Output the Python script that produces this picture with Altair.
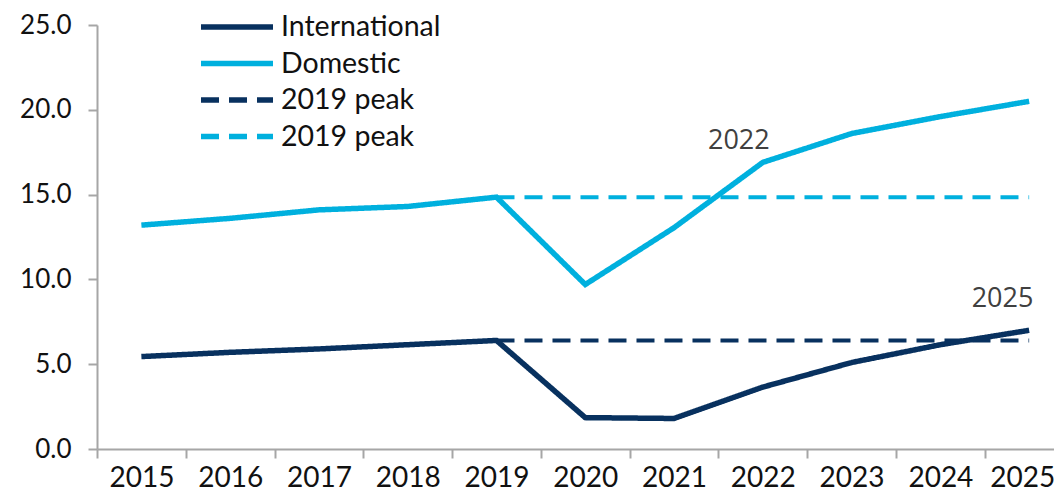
import altair as alt
import pandas as pd

years = [2015, 2016, 2017, 2018, 2019, 2020, 2021, 2022, 2023, 2024, 2025]
international = [5.45, 5.7, 5.9, 6.15, 6.4, 1.85, 1.8, 3.65, 5.1, 6.15, 7.0]
domestic = [13.2, 13.6, 14.1, 14.3, 14.85, 9.7, 13.05, 16.9, 18.6, 19.6, 20.5]
peak_years = [2019, 2025]
intl_peak = [6.4, 6.4]
dom_peak = [14.85, 14.85]

series_names = ["International", "Domestic", "2019 peak (Intl)", "2019 peak (Dom)"]
series_colors = ["#08315f", "#00b0de", "#08315f", "#00b0de"]
series_dash = [[1, 0], [1, 0], [18, 10], [18, 10]]

ann_labels = ["2022", "2025"]
ann_x = [2021.73, 2024.70]
ann_y = [18.15, 8.85]

tick_years = [y - 0.5 for y in years]

rows = []
for y, v in zip(years, international):
    rows.append({"year": y, "value": v, "series": "International"})
for y, v in zip(years, domestic):
    rows.append({"year": y, "value": v, "series": "Domestic"})
solid = pd.DataFrame(rows)

prow = []
for y, v in zip(peak_years, intl_peak):
    prow.append({"year": y, "value": v, "series": "2019 peak (Intl)"})
for y, v in zip(peak_years, dom_peak):
    prow.append({"year": y, "value": v, "series": "2019 peak (Dom)"})
peaks = pd.DataFrame(prow)

ann = pd.DataFrame({"x": ann_x, "y": ann_y, "label": ann_labels})

x_scale = alt.Scale(domain=[2014.5, 2025.28], nice=False, zero=False)
y_scale = alt.Scale(domain=[0, 25], nice=False)

x_enc = alt.X(
    "year:Q",
    scale=x_scale,
    axis=alt.Axis(
        title=None,
        values=tick_years,
        labelExpr="format(datum.value + 0.5, 'd')",
        labelOffset={"condition": {"test": "datum.value > 2024", "value": 37.5}, "value": 44.4},
        labelOverlap=False,
        labelFlush=False,
        labelPadding=6,
        labelFontSize=28,
        tickSize=9,
        grid=False,
    ),
)
y_enc = alt.Y(
    "value:Q",
    scale=y_scale,
    axis=alt.Axis(
        title=None,
        values=[0, 5, 10, 15, 20, 25],
        format=".1f",
        tickSize=9,
        labelPadding=17,
        labelFontSize=26,
        grid=False,
        minExtent=89,
        maxExtent=89,
    ),
)

color = alt.Color(
    "series:N",
    scale=alt.Scale(domain=series_names, range=series_colors),
    legend=alt.Legend(
        title=None,
        orient="none",
        legendX=125,
        legendY=-13,
        labelExpr="substring(datum.label, 0, 4) == '2019' ? '2019 peak' : datum.label",
        symbolType="M-3,0L3,0",
        symbolSize=576,
        symbolStrokeWidth=5.5,
        labelOffset=29,
        rowPadding=6.5,
        padding=0,
        labelFontSize=28.5,
        labelFont="Lato",
        labelColor="#111111",
    ),
)
dash = alt.StrokeDash(
    "series:N",
    scale=alt.Scale(domain=series_names, range=series_dash),
    legend=alt.Legend(title=None),
)

peak_layer = alt.Chart(peaks).mark_line(strokeWidth=4).encode(
    x=x_enc, y=y_enc, color=color, strokeDash=dash, detail="series:N"
)
solid_layer = alt.Chart(solid).mark_line(strokeWidth=5.5).encode(
    x=x_enc, y=y_enc, color=color, strokeDash=dash, detail="series:N"
)
text_layer = alt.Chart(ann).mark_text(
    font="Open Sans", fontSize=27, color="#404040", align="center", baseline="middle"
).encode(x=alt.X("x:Q", scale=x_scale), y=alt.Y("y:Q", scale=y_scale), text="label:N")

chart = (
    alt.layer(peak_layer, solid_layer, text_layer)
    .properties(
        width=957,
        height=424,
        autosize=alt.AutoSizeParams(type="none"),
        padding={"left": 89, "top": 17, "right": 0, "bottom": 45},
    )
    .configure_view(stroke=None)
    .configure_axis(
        labelFont="Lato",
        labelColor="#111111",
        domainColor="#a6a6a6",
        tickColor="#a6a6a6",
        domainWidth=2,
        tickWidth=2,
    )
)

chart.save("out.html", embed_options={"renderer": "svg", "actions": False})
